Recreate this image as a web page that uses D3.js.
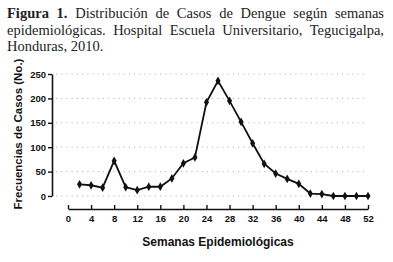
<!DOCTYPE html>
<html>
<head>
<meta charset="utf-8">
<script src="https://cdn.jsdelivr.net/npm/d3@7"></script>
<style>
  html, body { margin: 0; padding: 0; background: #fff; }
  #wrap { position: relative; width: 393px; height: 262px; overflow: hidden; }
  .caption {
    position: absolute; left: 7px; top: 5px; width: 377px;
    font-family: "Liberation Serif", "DejaVu Serif", serif;
    font-size: 14.5px; line-height: 16.5px; color: #222;
    text-align: justify; text-align-last: left;
  }
  .caption b { font-weight: bold; }
  svg { position: absolute; left: 0; top: 0; }
  .tick text { font-family: "Liberation Sans", Arial, sans-serif; font-weight: bold; font-size: 9.5px; fill: #111; }
  .axisTitle { font-family: "Liberation Sans", Arial, sans-serif; font-weight: bold; fill: #111; }
</style>
</head>
<body>
<div id="wrap">
  <div class="caption"><b>Figura 1.</b> Distribución de Casos de Dengue según semanas epidemiológicas. Hospital Escuela Universitario, Tegucigalpa, Honduras, 2010.</div>
</div>
<script>
// semanas epidemiológicas (cada 2 semanas)
const weeks = [2, 4, 6, 8, 10, 12, 14, 16, 18, 20, 22, 24, 26, 28, 30, 32, 34, 36, 38, 40, 42, 44, 46, 48, 50, 52];
const cases = [24, 22, 17, 72, 18, 12, 19, 19, 36, 67, 79, 192, 236, 195, 152, 108, 66, 46, 35, 25, 5, 4, 0, 0, 0, 0];
const xTicks = [0, 4, 8, 12, 16, 20, 24, 28, 32, 36, 40, 44, 48, 52];
const yTicks = [0, 50, 100, 150, 200, 250];

const W = 393, H = 262;
const svg = d3.select("#wrap").append("svg").attr("width", W).attr("height", H);

const x = d3.scaleLinear().domain([0, 52]).range([68, 368]);
const y = d3.scaleLinear().domain([0, 250]).range([196, 74]);

// grilla punteada
svg.append("g")
  .selectAll("line")
  .data(yTicks)
  .enter()
  .append("line")
  .attr("x1", 56)
  .attr("x2", 368)
  .attr("y1", (d) => y(d))
  .attr("y2", (d) => y(d))
  .attr("stroke", "#b8b8b8")
  .attr("stroke-width", 1)
  .attr("stroke-dasharray", "1.2,4");

// eje Y
const yAxis = svg.append("g")
  .attr("transform", "translate(52,0)")
  .call(d3.axisLeft(y).tickValues(yTicks).tickSize(4).tickSizeOuter(0).tickPadding(2));

// eje X (separado, estilo Prism)
const xAxis = svg.append("g")
  .attr("transform", "translate(0,209)")
  .call(d3.axisBottom(x).tickValues(xTicks).tickSizeInner(-4).tickSizeOuter(0).tickPadding(6));

[yAxis, xAxis].forEach((a) => {
  a.select(".domain").attr("stroke", "#111").attr("stroke-width", 1.6);
  a.selectAll(".tick line").attr("stroke", "#111").attr("stroke-width", 1.4);
});

// línea de casos
svg.append("path")
  .datum(weeks.map((w, i) => [w, cases[i]]))
  .attr("fill", "none")
  .attr("stroke", "#111")
  .attr("stroke-width", 1.8)
  .attr("d", d3.line().x((d) => x(d[0])).y((d) => y(d[1])));

svg.append("g")
  .selectAll("path")
  .data(weeks.map((w, i) => [w, cases[i]]))
  .enter()
  .append("path")
  .attr("transform", (d) => `translate(${x(d[0])},${y(d[1])})`)
  .attr("d", d3.symbol().type(d3.symbolDiamond).size(22))
  .attr("fill", "#111");

// títulos de ejes
svg.append("text")
  .attr("class", "axisTitle")
  .attr("x", 218)
  .attr("y", 246)
  .attr("text-anchor", "middle")
  .attr("font-size", 12)
  .text("Semanas Epidemiológicas");

svg.append("text")
  .attr("class", "axisTitle")
  .attr("transform", "translate(22,134) rotate(-90)")
  .attr("text-anchor", "middle")
  .attr("font-size", 11.5)
  .text("Frecuencias de Casos (No.)");
</script>
</body>
</html>
